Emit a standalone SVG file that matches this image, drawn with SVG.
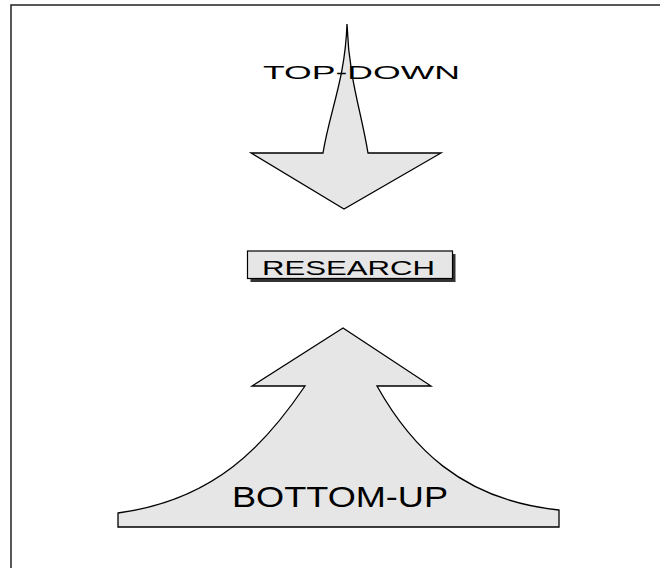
<svg xmlns="http://www.w3.org/2000/svg" width="660" height="568" viewBox="0 0 660 568">
<style>
.shape{fill:#e6e6e6;stroke:#000;stroke-width:1.3;stroke-linejoin:miter}
.lbl{font-family:"Liberation Sans",Arial,sans-serif;fill:#000}
.frame{fill:none;stroke:#222;stroke-width:1.5}
</style>
<rect width="660" height="568" fill="#fff"/>
<path class="frame" d="M11,568 V5 H660"/>
<g id="top-down">
<path class="shape" d="M347,24 C345,80 330,110 323,153 H251 L344,209 L441,153 H368 C361,110 349,80 347,24 Z"/>
<text class="lbl" x="263" y="79" font-size="19" textLength="197" lengthAdjust="spacingAndGlyphs">TOP-DOWN</text>
</g>
<g id="research">
<rect x="250.5" y="254" width="205" height="28" fill="#333"/>
<rect x="247.5" y="251" width="205" height="27.5" fill="#e6e6e6" stroke="#000" stroke-width="1.2"/>
<text class="lbl" x="262" y="274.5" font-size="21" textLength="173" lengthAdjust="spacingAndGlyphs">RESEARCH</text>
</g>
<g id="bottom-up">
<path class="shape" d="M343,328 L252,386 H305 C265,445 215,500 118,513 V527 H559 V510 C460,500 410,445 377,386 H431 Z"/>
<text class="lbl" x="232" y="507" font-size="29" textLength="216" lengthAdjust="spacingAndGlyphs">BOTTOM-UP</text>
</g>
<g id="connectors"></g>
</svg>
